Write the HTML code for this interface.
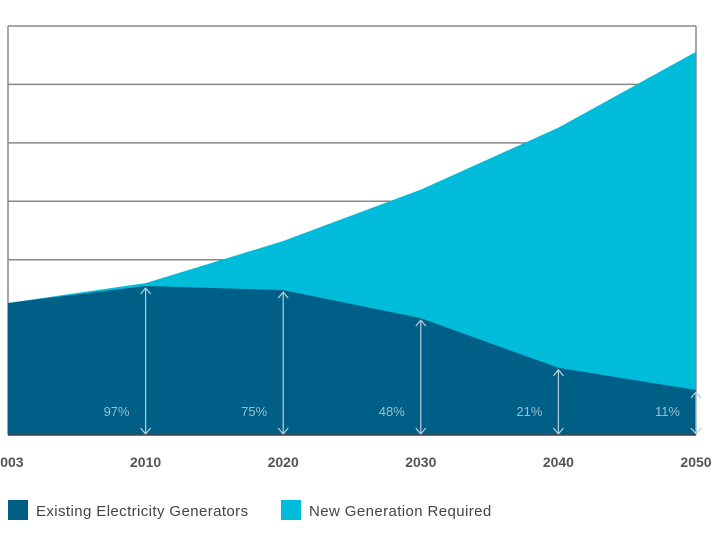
<!DOCTYPE html>
<html><head><meta charset="utf-8"><style>
body{margin:0;background:#fff;width:720px;height:540px;overflow:hidden;font-family:"Liberation Sans",sans-serif}
</style></head><body>
<svg id="chart" width="720" height="540" xmlns="http://www.w3.org/2000/svg"></svg>
<script>
const categories=["2003","2010","2020","2030","2040","2050"];
const existingValues=[2.26,2.55,2.48,2.0,1.15,0.77];
const totalValues=[2.26,2.6,3.32,4.2,5.26,6.56];
const percentLabels=["","97%","75%","48%","21%","11%"];
const gridTicks=[3,4,5,6,7];
const L=8,R=696,T=26,B=435,YMAX=7;
const x=i=>L+i*(R-L)/(categories.length-1);
const y=v=>B-v*(B-T)/YMAX;
const svg=document.getElementById('chart');
const NS="http://www.w3.org/2000/svg";
function mk(tag,attrs,parent){const e=document.createElementNS(NS,tag);for(const k in attrs)e.setAttribute(k,attrs[k]);(parent||svg).appendChild(e);return e;}
gridTicks.forEach(t=>{
  const g=mk('line',{x1:L,x2:R,y1:y(t),y2:y(t),stroke:'#888','stroke-width':1.5});
  
  
});
const fl=mk('line',{x1:L,x2:L,y1:T,y2:B,stroke:'#888','stroke-width':1.5});


const fr=mk('line',{x1:R,x2:R,y1:T,y2:B,stroke:'#888','stroke-width':1.5});


let d='M'+x(0)+','+B;
totalValues.forEach((v,i)=>d+=' L'+x(i)+','+y(v));
d+=' L'+x(categories.length-1)+','+B+' Z';
const a1=mk('path',{d:d,fill:'#00bcdb'});


let d2='M'+x(0)+','+B;
existingValues.forEach((v,i)=>d2+=' L'+x(i)+','+y(v));
d2+=' L'+x(categories.length-1)+','+B+' Z';
const a2=mk('path',{d:d2,fill:'#005f87'});


categories.forEach((c,i)=>{
  if(i===0)return;
  const xx=x(i),yt=y(existingValues[i])+2,yb=B-1;
  const g=mk('g',{stroke:'#b8cfdd','stroke-width':1.2,fill:'none'});
  
  
  mk('line',{x1:xx,x2:xx,y1:yt,y2:yb},g);
  mk('polyline',{points:(xx-5)+','+(yt+6)+' '+xx+','+yt+' '+(xx+5)+','+(yt+6)},g);
  mk('polyline',{points:(xx-5)+','+(yb-6)+' '+xx+','+yb+' '+(xx+5)+','+(yb-6)},g);
  const t=mk('text',{x:xx-16,y:416,'text-anchor':'end','font-size':13,fill:'#9fbccf'});
  t.textContent=percentLabels[i];
  
  
});
const ax=mk('line',{x1:L,x2:R,y1:B,y2:B,stroke:'#444','stroke-width':1.5});


categories.forEach((c,i)=>{
  const t=mk('text',{x:x(i),y:467,'text-anchor':'middle','font-size':14,'font-weight':'bold',fill:'#555'});
  t.textContent=c;
  
  
});
const legend=[["Existing Electricity Generators","#005f87",8],["New Generation Required","#00bcdb",281]];
legend.forEach(l=>{
  const g=mk('g',{});
  
  
  mk('rect',{x:l[2],y:500,width:20,height:20,fill:l[1]},g);
  const t=mk('text',{x:l[2]+28,y:516,'font-size':15,'letter-spacing':0.4,fill:'#444'},g);
  t.textContent=l[0];
});
</script>
</body></html>
